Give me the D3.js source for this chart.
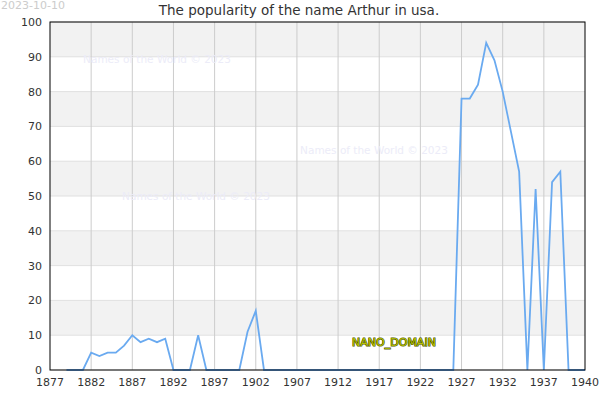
<!DOCTYPE html>
<html>
<head>
<meta charset="utf-8">
<script src="https://cdnjs.cloudflare.com/ajax/libs/d3/7.8.5/d3.min.js"></script>
<style>
  body { margin: 0; background: #fff; }
  text { font-family: "DejaVu Sans", sans-serif; }
</style>
</head>
<body>
<script>
// yearly popularity of the name Arthur
const years = d3.range(1879, 1943);
const values = [
  0, 0, 0, 5, 4, 5, 5, 7, 10, 8, 9, 8, 9,      // 1879-1891
  0, 0, 0, 10, 0, 0, 0, 0, 0, 11, 17,          // 1892-1902
  0, 0, 0, 0, 0, 0, 0, 0, 0, 0, 0, 0,          // 1903-1914
  0, 0, 0, 0, 0, 0, 0, 0, 0, 0, 0, 0,          // 1915-1926
  78, 78, 82, 94, 89, 80, 68.5, 57,            // 1927-1934
  0, 52, 0, 54, 57, 0, 0, 0                    // 1935-1942
];
const xTicks = [1877, 1882, 1887, 1892, 1897, 1902, 1907, 1912, 1917, 1922, 1927, 1932, 1937];
const lastLabel = "1940";
const yTicks = [0, 10, 20, 30, 40, 50, 60, 70, 80, 90, 100];
const watermarks = [[157, 59], [374, 150], [196, 196]];

const width = 600, height = 400;
const margin = {top: 22, right: 15, bottom: 30, left: 50};

const svg = d3.select("body").append("svg")
  .attr("width", width)
  .attr("height", height);

const x = d3.scaleLinear().domain([1877, 1942]).range([margin.left, width - margin.right]);
const y = d3.scaleLinear().domain([0, 100]).range([height - margin.bottom, margin.top]);

// alternating bands
const bands = yTicks.slice(0, -1).filter((d, i) => i % 2 === 1);
svg.selectAll("rect.band").data(bands).enter().append("rect")
  .attr("class", "band")
  .attr("x", x(1877))
  .attr("width", x(1942) - x(1877))
  .attr("y", d => y(d + 10))
  .attr("height", d => y(d) - y(d + 10))
  .attr("fill", "#f2f2f2");

// horizontal grid
svg.selectAll("line.hgrid").data(yTicks).enter().append("line")
  .attr("x1", x(1877)).attr("x2", x(1942))
  .attr("y1", d => y(d)).attr("y2", d => y(d))
  .attr("stroke", "#e0e0e0");

// vertical grid
svg.selectAll("line.vgrid").data(xTicks.slice(1)).enter().append("line")
  .attr("x1", d => x(d)).attr("x2", d => x(d))
  .attr("y1", y(0)).attr("y2", y(100))
  .attr("stroke", "#cccccc");

// watermarks
svg.selectAll("text.wm").data(watermarks).enter().append("text")
  .attr("x", d => d[0]).attr("y", d => d[1] + 4)
  .attr("text-anchor", "middle")
  .attr("font-size", 10.5)
  .attr("fill", "#ececf8")
  .text("Names of the World © 2023");

// line
const line = d3.line().x((d, i) => x(years[i])).y(d => y(d));
svg.append("path")
  .datum(values)
  .attr("d", line)
  .attr("fill", "none")
  .attr("stroke", "#6aaaf0")
  .attr("stroke-width", 1.8);

// frame
svg.append("rect")
  .attr("x", x(1877)).attr("y", y(100))
  .attr("width", x(1942) - x(1877))
  .attr("height", y(0) - y(100))
  .attr("fill", "none")
  .attr("stroke", "#000")
  .attr("stroke-width", 1);

// axes labels
svg.selectAll("text.ylab").data(yTicks).enter().append("text")
  .attr("x", x(1877) - 8)
  .attr("y", d => y(d) + 4)
  .attr("text-anchor", "end")
  .attr("font-size", 11)
  .attr("fill", "#333")
  .text(d => d);

svg.selectAll("text.xlab").data(xTicks).enter().append("text")
  .attr("x", d => x(d))
  .attr("y", y(0) + 16)
  .attr("text-anchor", "middle")
  .attr("font-size", 11)
  .attr("fill", "#333")
  .text(d => d);

svg.append("text")
  .attr("x", x(1942))
  .attr("y", y(0) + 16)
  .attr("text-anchor", "middle")
  .attr("font-size", 11)
  .attr("fill", "#333")
  .text(lastLabel);

// title
svg.append("text")
  .attr("x", 299).attr("y", 15)
  .attr("text-anchor", "middle")
  .attr("font-size", 13.5)
  .attr("fill", "#333")
  .text("The popularity of the name Arthur in usa.");

svg.append("text")
  .attr("x", 1).attr("y", 9)
  .attr("font-size", 11)
  .attr("fill", "#cccccc")
  .text("2023-10-10");

svg.append("text")
  .attr("x", 394).attr("y", 346)
  .attr("text-anchor", "middle")
  .attr("font-size", 11)
  .attr("fill", "#b8c400")
  .attr("stroke", "#4a5200")
  .attr("stroke-width", 1.2)
  .attr("paint-order", "stroke")
  .text("NANO_DOMAIN");
</script>
</body>
</html>
